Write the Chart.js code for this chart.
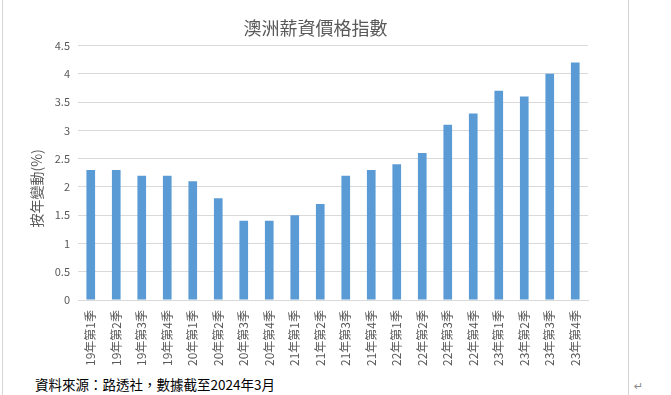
<!DOCTYPE html>
<html>
<head>
<meta charset="utf-8">
<script src="https://cdn.jsdelivr.net/npm/chart.js@4"></script>
<style>
  html, body { margin: 0; padding: 0; background: #fff; }
  #wrap { position: relative; width: 671px; height: 395px; overflow: hidden; }
  #box { position: absolute; left: 0; top: 0; width: 671px; height: 370px; }
  .frame { position: absolute; top: 0; width: 1px; height: 395px; background: #d4d4d4; }
  #note { position: absolute; left: 35px; top: 374px; font: 13.5px "Noto Sans CJK TC", sans-serif; color: #000; }
  #ret { position: absolute; left: 634px; top: 380px; font: 11px "DejaVu Sans", sans-serif; color: #888; }
</style>
</head>
<body>
<div id="wrap">
  <div class="frame" style="left:2px"></div>
  <div class="frame" style="left:628px"></div>
  <div id="box"><canvas id="chart"></canvas></div>
  <div id="note">資料來源：路透社，數據截至2024年3月</div>
  <div id="ret">↵</div>
</div>
<script>
// quarters and year-on-year wage price index change (%)
const quarters = ['19年第1季', '19年第2季', '19年第3季', '19年第4季',
  '20年第1季', '20年第2季', '20年第3季', '20年第4季',
  '21年第1季', '21年第2季', '21年第3季', '21年第4季',
  '22年第1季', '22年第2季', '22年第3季', '22年第4季',
  '23年第1季', '23年第2季', '23年第3季', '23年第4季'];
const yoyChange = [2.3, 2.3, 2.2, 2.2, 2.1, 1.8, 1.4, 1.4, 1.5, 1.7,
  2.2, 2.3, 2.4, 2.6, 3.1, 3.3, 3.7, 3.6, 4.0, 4.2];
const titleText = '澳洲薪資價格指數';
const yTitle = '按年變動(%)';

const font = '"Noto Sans CJK TC", sans-serif';
const textColor = '#595959';

const canvas = document.getElementById('chart');
const chart = new Chart(canvas, {
  type: 'bar',
  data: {
    labels: quarters,
    datasets: [{
      data: yoyChange,
      backgroundColor: '#5b9bd5',
      categoryPercentage: 1,
      barPercentage: 0.34
    }]
  },
  options: {
    responsive: true,
    maintainAspectRatio: false,
    animation: false,
    layout: { padding: { left: 28, right: 68, bottom: 0, top: 0 } },
    plugins: {
      legend: { display: false },
      tooltip: { enabled: false },
      title: {
        display: true,
        text: titleText,
        color: textColor,
        font: { family: font, size: 18, weight: 'normal' },
        padding: { top: 17, bottom: 7 }
      }
    },
    scales: {
      x: {
        grid: { display: false },
        border: { color: '#d9d9d9' },
        ticks: {
          color: textColor,
          font: { family: font, size: 12 },
          minRotation: 90,
          maxRotation: 90,
          autoSkip: false,
          padding: 2
        },
        afterFit: s => { s.height = 70; }
      },
      y: {
        min: 0,
        max: 4.5,
        ticks: {
          stepSize: 0.5,
          color: textColor,
          font: { family: font, size: 11 },
          padding: 8,
          callback: v => String(v)
        },
        grid: { color: '#d9d9d9', drawTicks: false },
        border: { display: false },
        title: {
          display: true,
          // trailing full-width spaces nudge the rotated title down a little, as in the reference
          text: yTitle + '\u3000\u3000 ',
          color: textColor,
          font: { family: font, size: 14 },
          padding: { top: 0, bottom: 4 }
        },
        afterFit: s => { s.width = 50; }
      },
      // empty right-hand box, only to keep the plot area where it sits in the reference
      spacer: {
        position: 'right',
        min: 0,
        max: 1,
        ticks: { display: false },
        grid: { display: false },
        border: { display: false },
        afterFit: s => { s.width = 15; }
      }
    }
  }
});
</script>
</body>
</html>
